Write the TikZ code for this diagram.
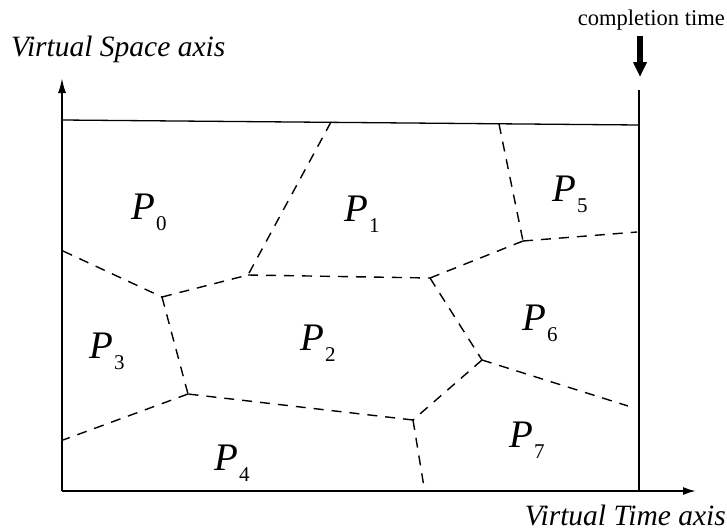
\documentclass[tikz,border=0pt]{standalone}
\usepackage{fontspec}
\setmainfont{Liberation Serif}
\usetikzlibrary{arrows.meta}
\tikzset{
  axis/.style={line width=1.8pt},
  frame/.style={line width=1.3pt},
  part/.style={line width=1.4pt, dash pattern=on 10pt off 8pt},
  plabel/.style={anchor=base west, inner sep=0pt, font=\fontsize{39}{40}\selectfont\itshape},
  axlabel/.style={inner sep=0pt, font=\fontsize{29.5}{32}\selectfont\itshape},
}
\newcommand{\Pl}[1]{P\kern1pt{\upshape\fontsize{21}{21}\selectfont\raisebox{-11pt}{#1}}}
\begin{document}
\begin{tikzpicture}[x=1pt,y=-1pt]
\useasboundingbox (0,0) rectangle (727,530);
% axes
\coordinate (O) at (62,491);
\coordinate (Ytip) at (62,78);
\coordinate (Xtip) at (696,491);
\draw[axis,-{Latex[length=15pt,width=8pt]}] (O) -- (Ytip);
\draw[axis,-{Latex[length=13pt,width=8pt]}] (O) -- (Xtip);
% frame
\coordinate (TL) at (62,120);
\coordinate (TR) at (639,125);
\coordinate (RT) at (639,90);
\coordinate (RB) at (639,491);
\draw[frame] (TL) -- (TR);
\draw[axis] (RT) -- (RB);
% completion time arrow
\coordinate (Ca) at (640,36);
\coordinate (Cb) at (640,77);
\draw[line width=5.5pt,-{Triangle[length=15pt,width=13pt]}] (Ca) -- (Cb);
% vertices
\coordinate (T1) at (331,122);
\coordinate (T2) at (499,124);
\coordinate (B) at (248,275);
\coordinate (C) at (162,297);
\coordinate (L1) at (63,251);
\coordinate (F) at (430,278);
\coordinate (E) at (523,241);
\coordinate (R1) at (637,232);
\coordinate (G) at (482,360);
\coordinate (R2) at (628,406);
\coordinate (H) at (413,420);
\coordinate (Bot) at (424,487);
\coordinate (I) at (188,394);
\coordinate (L2) at (63,440);
% partition boundaries
\draw[part] (T1) -- (B);
\draw[part] (L1) -- (C);
\draw[part] (C) -- (B);
\draw[part] (B) -- (F);
\draw[part] (F) -- (E);
\draw[part] (T2) -- (E);
\draw[part] (E) -- (R1);
\draw[part] (F) -- (G);
\draw[part] (G) -- (R2);
\draw[part] (G) -- (H);
\draw[part] (H) -- (Bot);
\draw[part] (H) -- (I);
\draw[part] (C) -- (I);
\draw[part] (I) -- (L2);
% labels
\node[plabel] (p0) at (131,219) {\Pl{0}};
\node[plabel] (p1) at (344,221) {\Pl{1}};
\node[plabel] (p5) at (552,201) {\Pl{5}};
\node[plabel] (p3) at (89,358) {\Pl{3}};
\node[plabel] (p2) at (300,350) {\Pl{2}};
\node[plabel] (p4) at (214,470) {\Pl{4}};
\node[plabel] (p6) at (522,330) {\Pl{6}};
\node[plabel] (p7) at (509,447) {\Pl{7}};
\node[axlabel, anchor=base west] (vs) at (11,56) {Virtual Space axis};
\node[axlabel, anchor=base east] (vt) at (726,525) {Virtual Time axis};
\node[inner sep=0pt, anchor=base east, font=\fontsize{22.5}{24}\selectfont] (ct) at (725,25) {completion time};
\end{tikzpicture}
\end{document}
